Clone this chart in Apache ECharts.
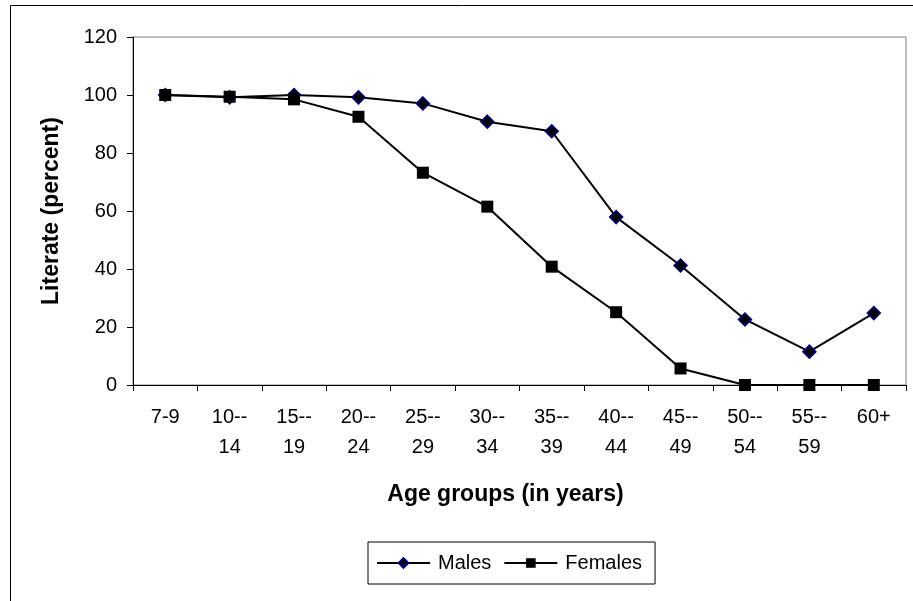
<!DOCTYPE html>
<html>
<head>
<meta charset="utf-8">
<script src="https://cdn.jsdelivr.net/npm/echarts@6/dist/echarts.min.js"></script>
<style>html,body{margin:0;padding:0;background:#fff}#c{width:913px;height:601px}</style>
</head>
<body>
<div id="c"></div>
<script>
var categories = ["7-9","10--14","15--19","20--24","25--29","30--34","35--39","40--44","45--49","50--54","55--59","60+"];
var males = [100, 99.2, 100, 99.2, 97.1, 90.8, 87.5, 57.9, 41.2, 22.6, 11.5, 24.8];
var females = [100, 99.4, 98.5, 92.5, 73.2, 61.5, 40.8, 25.1, 5.7, 0, 0, 0];
var yTicks = {min: 0, max: 120, interval: 20};
var FONT = '"Liberation Sans", Arial, sans-serif';

var chart = echarts.init(document.getElementById('c'), null, {renderer: 'canvas'});
chart.setOption({
  animation: false,
  backgroundColor: '#fff',
  textStyle: {fontFamily: FONT},
  graphic: [{
    type: 'rect', silent: true, z: -1,
    shape: {x: 10.5, y: 5.5, width: 920, height: 620},
    style: {fill: 'none', stroke: '#000', lineWidth: 1}
  }],
  grid: {left: 133, right: 7, top: 37, bottom: 216, show: true, borderColor: '#808080', borderWidth: 1, backgroundColor: 'transparent'},
  legend: {
    left: 368, top: 542,
    orient: 'horizontal',
    itemWidth: 53, itemHeight: 12, itemGap: 12,
    padding: [11, 13, 11, 8],
    borderColor: '#000', borderWidth: 1,
    textStyle: {fontFamily: FONT, fontSize: 20, color: '#000', padding: [0, 0, 0, 3]},
    data: ['Males', 'Females']
  },
  xAxis: {
    type: 'category',
    data: categories,
    boundaryGap: true,
    name: 'Age groups (in years)',
    nameLocation: 'middle',
    nameGap: 98,
    nameTextStyle: {fontFamily: FONT, fontSize: 23, fontWeight: 'bold', color: '#000', padding: [0, 28, 0, 0]},
    axisLine: {lineStyle: {color: '#000', width: 1}},
    axisTick: {show: true, inside: false, length: 6, interval: 0, lineStyle: {color: '#000'}},
    axisLabel: {
      interval: 0, margin: 17, color: '#000', fontSize: 20, fontFamily: FONT, lineHeight: 30,
      verticalAlign: 'top',
      formatter: function (v) { return v.replace('--', '--\n'); }
    },
    splitLine: {show: false}
  },
  yAxis: {
    type: 'value',
    min: yTicks.min, max: yTicks.max, interval: yTicks.interval,
    name: 'Literate (percent)',
    nameLocation: 'middle',
    nameGap: 70,
    nameTextStyle: {fontFamily: FONT, fontSize: 23, fontWeight: 'bold', color: '#000'},
    axisLine: {show: true, lineStyle: {color: '#000', width: 1}},
    axisTick: {show: true, inside: false, length: 6, lineStyle: {color: '#000'}},
    axisLabel: {color: '#000', fontSize: 20, fontFamily: FONT, margin: 16},
    splitLine: {show: false}
  },
  series: [
    {
      name: 'Males', type: 'line', data: males,
      symbol: 'diamond', symbolSize: 13,
      lineStyle: {color: '#000', width: 2},
      itemStyle: {color: '#000', borderColor: '#000080', borderWidth: 1.5},
      z: 3
    },
    {
      name: 'Females', type: 'line', data: females,
      symbol: 'rect', symbolSize: 12,
      lineStyle: {color: '#000', width: 2},
      itemStyle: {color: '#000', borderColor: '#000', borderWidth: 0},
      z: 4
    }
  ]
});
</script>
</body>
</html>
